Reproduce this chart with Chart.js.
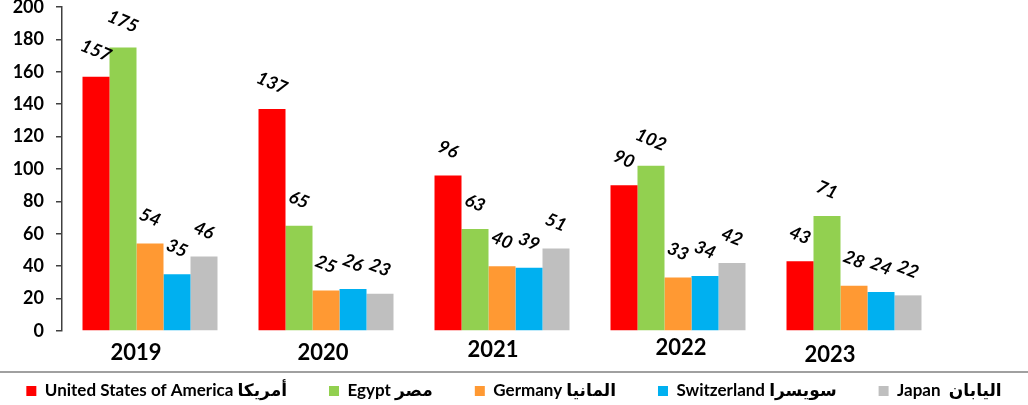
<!DOCTYPE html>
<html>
<head>
<meta charset="utf-8">
<script src="https://cdn.jsdelivr.net/npm/chart.js@4/dist/chart.umd.min.js"></script>
<style>
  html, body { margin: 0; padding: 0; background: #fff; }
  #wrap { width: 1028px; height: 405px; position: relative; }
</style>
</head>
<body>
<div id="wrap"><canvas id="chartCanvas"></canvas></div>
<script>
const years = ['2019', '2020', '2021', '2022', '2023'];
const usa = [157, 137, 96, 90, 43];
const egypt = [175, 65, 63, 102, 71];
const germany = [54, 25, 40, 33, 28];
const switzerland = [35, 26, 39, 34, 24];
const japan = [46, 23, 51, 42, 22];
const yTicks = [0, 20, 40, 60, 80, 100, 120, 140, 160, 180, 200];

const FONT = "Lato, 'DejaVu Sans', sans-serif";

// year labels sit in their own text boxes in the original, a little off centre
const yearShiftX = [-14, -3, -9, 3, -24];
const yearShiftY = [22, 22, 19, 17, 24];

const valueLabels = {
    id: 'valueLabels',
    afterDatasetsDraw(chart) {
        const ctx = chart.ctx;
        ctx.save();
        ctx.font = "italic bold 18px " + FONT;
        ctx.fillStyle = '#000';
        ctx.textAlign = 'center';
        ctx.textBaseline = 'middle';
        chart.data.datasets.forEach((ds, i) => {
            const meta = chart.getDatasetMeta(i);
            meta.data.forEach((bar, j) => {
                ctx.save();
                ctx.translate(bar.x, bar.y - 26);
                ctx.rotate(0.4);
                ctx.fillText(ds.data[j], 0, 0);
                ctx.restore();
            });
        });
        ctx.restore();
    }
};

const yearLabels = {
    id: 'yearLabels',
    afterDraw(chart) {
        const ctx = chart.ctx;
        const xs = chart.scales.x;
        const bottom = chart.chartArea.bottom;
        ctx.save();
        ctx.font = "bold 22px " + FONT;
        ctx.fillStyle = '#000';
        ctx.textAlign = 'center';
        ctx.textBaseline = 'middle';
        years.forEach((y, i) => {
            ctx.fillText(y, xs.getPixelForValue(i) + yearShiftX[i], bottom + yearShiftY[i]);
        });
        // rule above the legend
        ctx.strokeStyle = '#808080';
        ctx.lineWidth = 1.5;
        ctx.beginPath();
        ctx.moveTo(0, 372);
        ctx.lineTo(chart.width, 372);
        ctx.stroke();
        ctx.restore();
    }
};

// the legend row is wider than chart.js allows for its padding, so let it
// measure and draw against a wider box and keep it on one line
const legendTweak = {
    id: 'legendTweak',
    afterInit(chart) {
        const lg = chart.legend;
        if (!lg) return;
        const fit = lg.fit;
        lg.fit = function () {
            const mw = this.maxWidth;
            this.maxWidth = mw + 200;
            fit.call(this);
            this.maxWidth = mw;
            this.width = mw;
        };
    },
    afterLayout(chart) {
        const lg = chart.legend;
        if (lg) {
            lg.top += 4.5;
            lg.bottom += 4.5;
            lg.left -= 100;
            lg.right += 100;
        }
    }
};

new Chart(document.getElementById('chartCanvas'), {
    type: 'bar',
    data: {
        labels: years,
        datasets: [
            { label: 'United States of America أمريكا', data: usa, backgroundColor: '#FF0000' },
            { label: 'Egypt مصر', data: egypt, backgroundColor: '#92D050' },
            { label: 'Germany المانيا', data: germany, backgroundColor: '#FF9933' },
            { label: 'Switzerland سويسرا', data: switzerland, backgroundColor: '#00B0F0' },
            { label: 'Japan  اليابان', data: japan, backgroundColor: '#BFBFBF' }
        ]
    },
    options: {
        responsive: true,
        maintainAspectRatio: false,
        animation: false,
        datasets: {
            bar: { categoryPercentage: 0.767, barPercentage: 1.0 }
        },
        layout: { padding: { top: 7, right: 0, left: 0, bottom: 0 } },
        scales: {
            x: {
                grid: { display: false },
                border: { display: false },
                ticks: { display: false },
                afterFit: s => { s.height = 5; }
            },
            y: {
                min: 0,
                max: 200,
                afterBuildTicks: s => { s.ticks = yTicks.map(v => ({ value: v })); },
                grid: { drawOnChartArea: false, drawTicks: true, tickLength: 6, color: '#404040', lineWidth: 1.5 },
                border: { display: true, color: '#404040', width: 1.5 },
                ticks: { color: '#000', padding: 12, font: { family: FONT, size: 18, weight: 'bold' } },
                afterFit: s => { s.width = 62; s.paddingTop = 7; s.paddingBottom = 0; }
            },
            // empty spacer on the right so the plot stops short of the edge
            spacer: {
                type: 'linear',
                position: 'right',
                display: true,
                grid: { display: false },
                border: { display: false },
                ticks: { display: false },
                afterFit: s => { s.width = 86; }
            }
        },
        plugins: {
            legend: {
                position: 'bottom',
                labels: {
                    boxWidth: 10,
                    boxHeight: 10,
                    padding: 42,
                    color: '#000',
                    font: { family: FONT, size: 17, weight: 'bold' }
                }
            },
            tooltip: { enabled: false }
        }
    },
    plugins: [valueLabels, yearLabels, legendTweak]
});
</script>
</body>
</html>
